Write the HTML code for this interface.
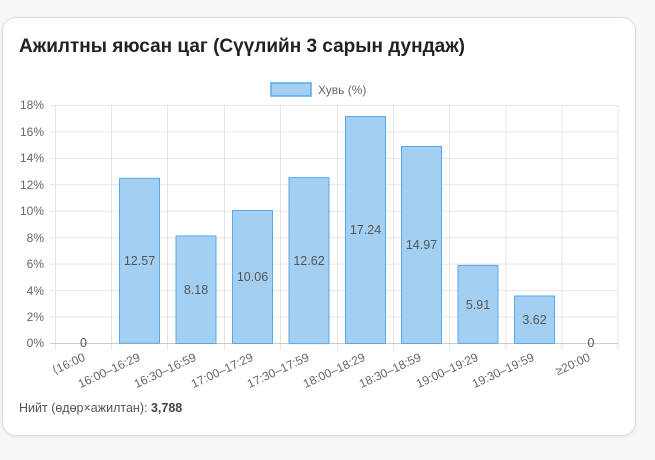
<!DOCTYPE html>
<html><head><meta charset="utf-8"><style>
body{margin:0;background:#f7f8fa;width:655px;height:460px;overflow:hidden;font-family:"Liberation Sans",sans-serif;}
.card{position:absolute;left:2px;top:17px;width:632px;height:417px;background:#fff;border:1px solid #ddd;border-radius:14px;box-shadow:0 1px 4px rgba(0,0,0,.08);}
h1{position:absolute;left:16px;top:18px;margin:0;font-size:19px;font-weight:bold;color:#222;}
.foot{position:absolute;left:16px;top:383px;font-size:12.5px;color:#555;}
.foot b{color:#444;}
svg{position:absolute;left:0;top:0;}
</style></head><body>
<div class="card"><h1>Ажилтны яюсан цаг (Сүүлийн 3 сарын дундаж)</h1>
<div class="foot">Нийт (өдөр×ажилтан): <b>3,788</b></div></div>
<svg width="655" height="460" font-family="Liberation Sans, sans-serif" font-size="12" fill="#666">
<rect x="271" y="83" width="40" height="13" fill="#a3cff2" stroke="#5ba8e8" stroke-width="1.5"/>
<text x="318" y="94" font-size="12">Хувь (%)</text>
<g stroke="#e5e5e5" stroke-width="1">
<line x1="50" y1="105.5" x2="618" y2="105.5"/><line x1="50" y1="131.9" x2="618" y2="131.9"/><line x1="50" y1="158.4" x2="618" y2="158.4"/><line x1="50" y1="184.8" x2="618" y2="184.8"/><line x1="50" y1="211.2" x2="618" y2="211.2"/><line x1="50" y1="237.7" x2="618" y2="237.7"/><line x1="50" y1="264.1" x2="618" y2="264.1"/><line x1="50" y1="290.6" x2="618" y2="290.6"/><line x1="50" y1="317" x2="618" y2="317"/>
<line x1="55.5" y1="105" x2="55.5" y2="350"/><line x1="111.5" y1="105" x2="111.5" y2="350"/><line x1="167.5" y1="105" x2="167.5" y2="350"/><line x1="224.5" y1="105" x2="224.5" y2="350"/><line x1="280.5" y1="105" x2="280.5" y2="350"/><line x1="337.5" y1="105" x2="337.5" y2="350"/><line x1="393.5" y1="105" x2="393.5" y2="350"/><line x1="449.5" y1="105" x2="449.5" y2="350"/><line x1="506" y1="105" x2="506" y2="350"/><line x1="562" y1="105" x2="562" y2="350"/><line x1="618" y1="105" x2="618" y2="350"/>
</g>
<line x1="50" y1="343.5" x2="618" y2="343.5" stroke="#ccc"/>
<g text-anchor="end">
<text x="44" y="109">18%</text><text x="44" y="136">16%</text><text x="44" y="162">14%</text><text x="44" y="189">12%</text><text x="44" y="215">10%</text><text x="44" y="242">8%</text><text x="44" y="268">6%</text><text x="44" y="295">4%</text><text x="44" y="321">2%</text><text x="44" y="347">0%</text>
</g>
<g fill="#a3cff2" stroke="#5ba8e8" stroke-width="1">
<rect x="119.5" y="178.3" width="40" height="165"/>
<rect x="176" y="235.9" width="40" height="107.6"/>
<rect x="232.5" y="210.5" width="40" height="133"/>
<rect x="289" y="177.6" width="40" height="166"/>
<rect x="345.5" y="116.5" width="40" height="227"/>
<rect x="401.5" y="146.5" width="40" height="197"/>
<rect x="458" y="265.4" width="40" height="78"/>
<rect x="514.5" y="296" width="40" height="47.5"/>
</g>
<g text-anchor="middle" fill="#555" font-size="12.5">
<text x="83.5" y="347">0</text><text x="139.5" y="265">12.57</text><text x="196" y="294">8.18</text><text x="252.5" y="281">10.06</text><text x="309" y="265">12.62</text><text x="365.5" y="234">17.24</text><text x="421.5" y="249">14.97</text><text x="478" y="309">5.91</text><text x="534.5" y="324">3.62</text><text x="591" y="347">0</text>
</g>
<g text-anchor="end" font-size="12">
<text transform="translate(86,360) rotate(-25)">⟨16:00</text>
<text transform="translate(141,360) rotate(-25)">16:00–16:29</text>
<text transform="translate(197,360) rotate(-25)">16:30–16:59</text>
<text transform="translate(254,360) rotate(-25)">17:00–17:29</text>
<text transform="translate(310,360) rotate(-25)">17:30–17:59</text>
<text transform="translate(366,360) rotate(-25)">18:00–18:29</text>
<text transform="translate(422,360) rotate(-25)">18:30–18:59</text>
<text transform="translate(479,360) rotate(-25)">19:00–19:29</text>
<text transform="translate(535,360) rotate(-25)">19:30–19:59</text>
<text transform="translate(591,360) rotate(-25)">≥20:00</text>
</g>
</svg>
</body></html>
